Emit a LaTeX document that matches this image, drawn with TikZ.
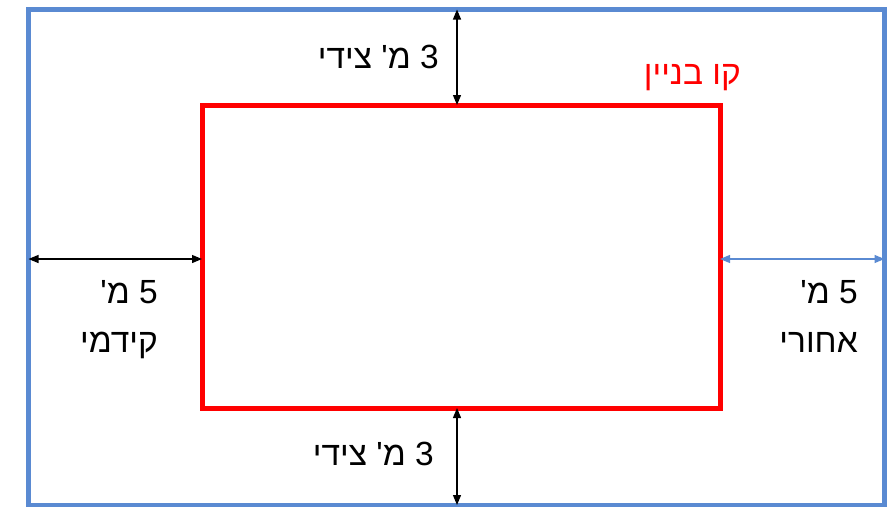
\documentclass[tikz,border=0pt]{standalone}
\usepackage{fontspec}
\setmainfont{Liberation Sans}
\newfontfamily\heb[Script=Hebrew,Ligatures=TeXOff]{Liberation Sans}
\TeXXeTstate=1
\usetikzlibrary{arrows.meta}
\definecolor{plotblue}{HTML}{5A8AD2}
\begin{document}
\begin{tikzpicture}[x=1pt,y=-1pt,
  plotbox/.style={draw=plotblue,line width=4.5pt,inner sep=0pt,outer sep=0pt},
  bldbox/.style={draw=red,line width=5pt,inner sep=0pt,outer sep=0pt},
  dim/.style={{Triangle[length=10pt,width=8pt]}-{Triangle[length=10pt,width=8pt]},line width=1.2pt},
  lbl/.style={font=\heb\fontsize{33.5}{40}\selectfont,inner sep=0pt,anchor=base east}]
\useasboundingbox (0,0) rectangle (894,506);
\fill[white] (0,0) rectangle (894,506);
\node[plotbox,minimum width=856pt,minimum height=495.5pt] (plot) at (456.5,257.25) {};
\node[bldbox,minimum width=518pt,minimum height=303pt] (bld) at (461,256.5) {};
\coordinate (vx) at (457,0);
\coordinate (hy) at (0,259);
\draw[dim] (vx |- plot.north) -- (vx |- bld.north);
\draw[dim] (vx |- bld.south) -- (vx |- plot.south);
\draw[dim] (hy -| plot.west) -- (hy -| bld.west);
\draw[dim,draw=plotblue,fill=plotblue] (hy -| bld.east) -- (hy -| plot.east);
\node[lbl] (ttop) at (439,68) {\beginR 3 מ' צידי\endR};
\node[lbl] (tbot) at (434,465) {\beginR 3 מ' צידי\endR};
\node[lbl,text=red] (tline) at (741,84) {\beginR קו בניין\endR};
\node[lbl] (tleft1) at (158,303) {\beginR 5 מ'\endR};
\node[lbl] (tleft2) at (158,352) {\beginR קידמי\endR};
\node[lbl] (tright1) at (858,303) {\beginR 5 מ'\endR};
\node[lbl] (tright2) at (858,352) {\beginR אחורי\endR};
\end{tikzpicture}
\end{document}
